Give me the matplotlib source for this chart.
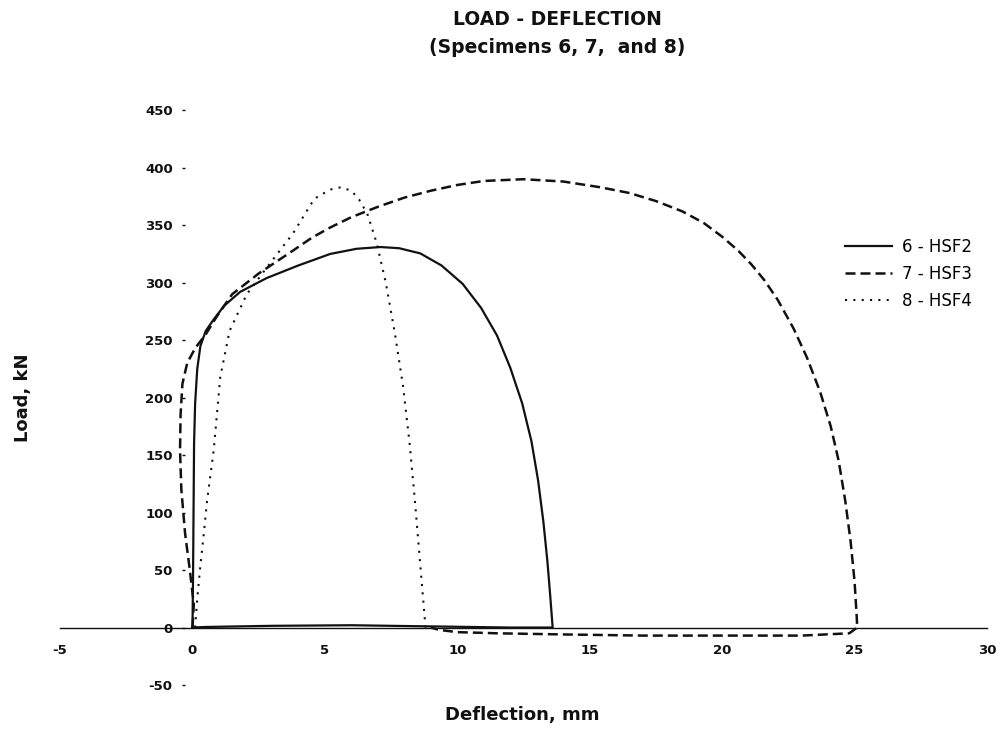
import matplotlib
matplotlib.use('Agg')
import matplotlib.pyplot as plt

plt.rcParams['axes.unicode_minus'] = False

# Specimen 6 - HSF2 (solid)
x6 = [0, 0.02, 0.04, 0.06, 0.1, 0.18, 0.3, 0.5, 0.8, 1.2, 1.8, 2.8, 4.0, 5.2, 6.2, 7.1,
      7.8, 8.6, 9.4, 10.2, 10.9, 11.5, 12.0, 12.45, 12.8, 13.05, 13.25, 13.4, 13.5, 13.6,
      12.0, 9.0, 6.0, 3.0, 0.5, 0]
y6 = [0, 40, 100, 160, 195, 225, 245, 258, 268, 280, 292, 304, 315, 325, 329.5, 331,
      330, 325.5, 315, 299, 278, 254, 226, 195, 162, 128, 92, 58, 30, 0,
      0, 1, 2, 1.5, 0.5, 0]

# Specimen 7 - HSF3 (dashed)
x7 = [0, 0.05, -0.1, -0.28, -0.42, -0.47, -0.45, -0.38, -0.2, 0.1, 0.5, 0.9, 1.5, 2.5,
      3.8, 4.5, 5.2, 6.0, 7.0, 8.0, 9.0, 10.0, 11.0, 12.5, 14.0, 15.4, 16.5, 17.5, 18.5,
      19.3, 20.0, 20.6, 21.1, 21.6, 22.1, 22.7, 23.2, 23.7, 24.1, 24.4, 24.65, 24.85,
      25.0, 25.08, 25.1, 24.8, 23.0, 20.0, 17.0, 14.0, 11.5, 10.0, 9.3, 9.0]
y7 = [0, 20, 50, 82, 120, 154, 185, 212, 230, 243, 255, 270, 290, 308,
      328, 339, 348, 357, 366, 374, 380, 385, 388.5, 390, 388, 383, 378, 371, 362,
      352, 340, 328, 316, 302, 285, 260, 235, 205, 175, 145, 110, 75,
      40, 10, 0, -5, -7, -7, -7, -6, -5, -4, -2, 0]

# Specimen 8 - HSF4 (dotted)
x8 = [0.1, 0.18, 0.29, 0.42, 0.55, 0.8, 1.05, 1.4, 2.05, 2.8, 3.8, 4.6, 5.2, 5.6, 6.0,
      6.3, 6.6, 6.95, 7.3, 7.65, 7.95, 8.2, 8.4, 8.6, 8.8]
y8 = [0, 25, 52, 80, 110, 154, 218, 258, 290, 313, 343, 373, 381, 383, 380,
      372, 360, 335, 300, 255, 210, 160, 110, 55, 0]

labels = ['6 - HSF2', '7 - HSF3', '8 - HSF4']
xticks = [-5, 0, 5, 10, 15, 20, 25, 30]
yticks = [-50, 0, 50, 100, 150, 200, 250, 300, 350, 400, 450]

fig = plt.figure(figsize=(10.01, 7.35), dpi=100)
ax = fig.add_axes([0.060, 0.068, 0.926, 0.782])

ink = '#111111'
ax.plot(x6, y6, color=ink, lw=1.6, label=labels[0])
ax.plot(x7, y7, color=ink, lw=1.8, dashes=(4, 2), label=labels[1])
ax.plot(x8, y8, color=ink, lw=1.5, dashes=(1, 3), label=labels[2])

ax.set_xlim(-5, 30)
ax.set_ylim(-50, 450)
ax.set_xticks(xticks)
ax.set_yticks(yticks)
ax.set_xticklabels([str(t) for t in xticks])
ax.set_yticklabels([str(t) for t in yticks])

# axes crossing at the origin
ax.spines['top'].set_visible(False)
ax.spines['right'].set_visible(False)
ax.spines['bottom'].set_position(('data', 0))
ax.spines['bottom'].set_linewidth(1.0)
ax.spines['bottom'].set_color(ink)
ax.spines['left'].set_position(('data', -0.3))
ax.spines['left'].set_color('none')

ax.tick_params(axis='x', length=0, pad=12, labelsize=9.5, colors=ink)
ax.tick_params(axis='y', length=2.5, width=1, pad=6, labelsize=9.5, colors=ink)
for lbl in ax.get_xticklabels() + ax.get_yticklabels():
    lbl.set_fontweight('bold')

fig.text(0.557, 0.973, 'LOAD - DEFLECTION', ha='center', va='center',
         fontsize=13.5, fontweight='bold', color=ink)
fig.text(0.557, 0.936, '(Specimens 6, 7,  and 8)', ha='center', va='center',
         fontsize=13.5, fontweight='bold', color=ink)
fig.text(0.522, 1 - 715 / 735, 'Deflection, mm', ha='center', va='center',
         fontsize=13, fontweight='bold', color=ink)
fig.text(0.023, 1 - 398 / 735, 'Load, kN', ha='center', va='center',
         rotation=90, fontsize=13, fontweight='bold', color=ink)

ax.legend(loc='center left', bbox_to_anchor=(845 / 1001, 1 - 274 / 735),
          bbox_transform=fig.transFigure, frameon=False, fontsize=12,
          borderpad=0, borderaxespad=0, handlelength=2.8, handletextpad=0.6,
          labelspacing=0.55)

fig.savefig('out.png', dpi=100)
